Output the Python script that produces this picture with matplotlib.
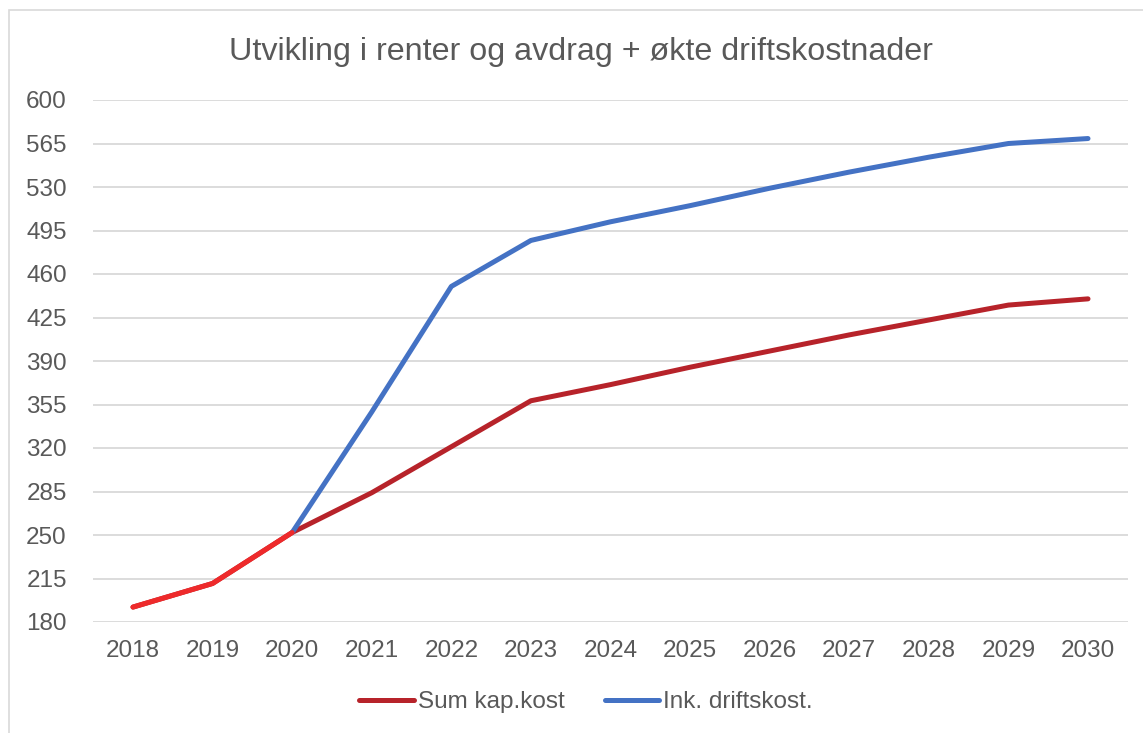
import matplotlib
matplotlib.use("Agg")
import matplotlib.pyplot as plt
from matplotlib.patches import Rectangle
from matplotlib.lines import Line2D

years = [2018, 2019, 2020, 2021, 2022, 2023, 2024, 2025, 2026, 2027, 2028, 2029, 2030]
sum_kap_kost = [192, 211, 252, 284, 321, 358, 371, 385, 398, 411, 423, 435, 440]
ink_drift_years = [2020, 2021, 2022, 2023, 2024, 2025, 2026, 2027, 2028, 2029, 2030]
ink_driftskost = [252, 349, 450, 487, 502, 515, 529, 542, 554, 565, 569]
hist_years = [2018, 2019, 2020]
historikk = [192, 211, 252]
yticks = list(range(180, 601, 35))

plt.rcParams['font.family'] = ['Liberation Sans', 'DejaVu Sans']

fig = plt.figure(figsize=(11.43, 7.33), dpi=100)
fig.patches.append(Rectangle((9/1143, -0.01), 1.2, (733-10)/733 + 0.01, transform=fig.transFigure,
                             fill=False, edgecolor='#d9d9d9', linewidth=1.2))
ax = fig.add_axes([93.2/1143, 1-622/733, (1127.8-93.2)/1143, (622-100)/733])

dark_red = '#B7232A'
bright_red = '#EE2A2B'
blue = '#4472C4'
lw = 3.6

ax.plot(years, sum_kap_kost, color=dark_red, lw=lw, solid_capstyle='round', solid_joinstyle='round', zorder=3)
ax.plot(ink_drift_years, ink_driftskost, color=blue, lw=lw, solid_capstyle='round', solid_joinstyle='round', zorder=3)
ax.plot(hist_years, historikk, color=bright_red, lw=lw, solid_capstyle='round', solid_joinstyle='round', zorder=4)

ax.set_xlim(2017.5, 2030.5)
ax.set_ylim(180, 600)
ax.set_yticks(yticks)
ax.set_xticks(years)
ax.grid(axis='y', color='#d9d9d9', lw=1.3)
ax.set_axisbelow(True)
for s in ax.spines.values():
    s.set_visible(False)
ax.tick_params(axis='both', length=0, labelsize=17.5, labelcolor='#595959')
ax.tick_params(axis='y', pad=19)
ax.tick_params(axis='x', pad=13)

fig.text(581/1143, 1-52/733, 'Utvikling i renter og avdrag + økte driftskostnader',
         ha='center', va='center', fontsize=23.2, color='#595959')

handles = [Line2D([], [], color=dark_red, lw=lw, solid_capstyle='round'),
           Line2D([], [], color=blue, lw=lw, solid_capstyle='round')]
fig.legend(handles, ['Sum kap.kost', 'Ink. driftskost.'], loc='center',
           bbox_to_anchor=(586/1143, 1-702/733), ncol=2, frameon=False,
           fontsize=17.5, labelcolor='#595959', handlelength=2.25, handletextpad=0.15,
           columnspacing=1.65)

fig.savefig('out.png', dpi=100)
